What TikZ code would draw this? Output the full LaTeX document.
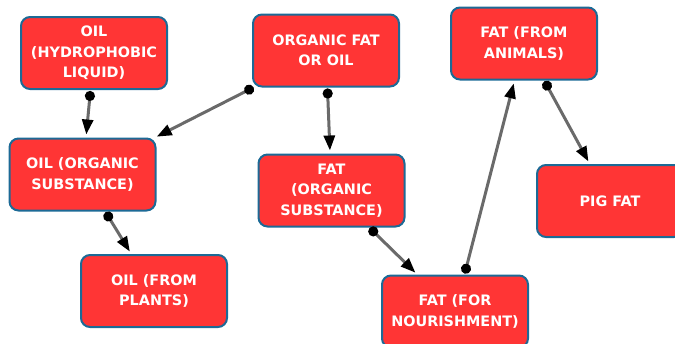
\documentclass[tikz,border=0pt]{standalone}
\usepackage{fontspec}
\setmainfont{DejaVu Sans}
\usetikzlibrary{arrows.meta}
\definecolor{boxred}{HTML}{FF3535}
\definecolor{boxblue}{HTML}{1C6A96}
\definecolor{linkgray}{HTML}{6A6A6A}
\tikzset{
  concept/.style={draw=boxblue, line width=2pt, fill=boxred, rounded corners=9pt,
    minimum width=146pt, minimum height=72pt, inner sep=0pt, outer sep=0pt,
    align=center, text=white, font=\fontsize{14.4pt}{20.5pt}\selectfont\bfseries},
  link/.style={draw=linkgray, line width=3pt,
    {Circle[length=10pt,color=black]}-{Triangle[length=15pt,width=11pt,color=black]},
    shorten <=2pt, shorten >=4pt}
}
\begin{document}
\begin{tikzpicture}[x=1pt,y=-1pt]
\useasboundingbox (0,0) rectangle (675,343);
\node[concept] (hyd) at (94,53) {OIL\\(HYDROPHOBIC\\LIQUID)};
\node[concept] (org) at (326,50.5) {ORGANIC FAT\\OR OIL};
\node[concept] (oilorg) at (82.5,174.5) {OIL (ORGANIC\\SUBSTANCE)};
\node[concept] (fatorg) at (331.5,190.5) {FAT\\(ORGANIC\\SUBSTANCE)};
\node[concept] (animals) at (524,43.5) {FAT (FROM\\ANIMALS)};
\node[concept] (pig) at (610,201) {PIG FAT};
\node[concept] (nour) at (455,311.5) {FAT (FOR\\NOURISHMENT)};
\node[concept] (plants) at (154,291) {OIL (FROM\\PLANTS)};
\draw[link] (hyd) -- (oilorg);
\draw[link] (org) -- (oilorg);
\draw[link] (org) -- (fatorg);
\draw[link] (oilorg) -- (plants);
\draw[link] (fatorg) -- (nour);
\draw[link] (nour) -- (animals);
\draw[link] (animals) -- (pig);
\end{tikzpicture}
\end{document}
